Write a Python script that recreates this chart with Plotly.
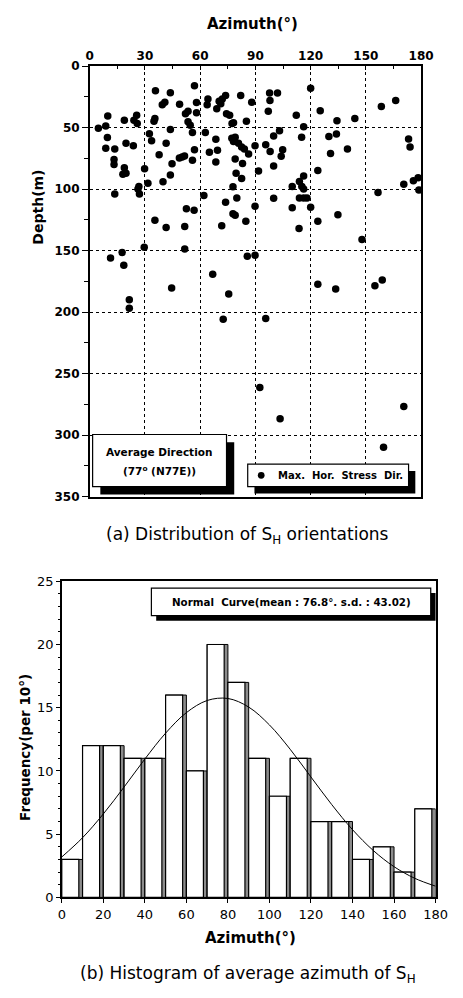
import plotly.graph_objects as go

# ---------------- data ----------------
azimuth = [35.7, 43.8, 56.9, 39.4, 40.8, 48.8, 58, 64.2, 63.8, 70.3, 72, 73.8, 71.2, 69, 82, 88, 97.7, 102, 97.9, 120,
           158.4, 166.2, 97, 125.2, 112.2, 134.3, 144, 9.8, 18.8, 25.5, 24, 25.8, 35.4, 34.9, 52, 53.4, 58, 53.4, 54.6,
           74.3, 76, 77.3, 78.1, 85.1, 116.2, 4.7, 8.7, 43.8, 32.4, 55.8, 62.8, 9.6, 33.6, 41.5, 19.7, 23.7, 68.5, 77.2,
           79, 78.1, 80.8, 82.5, 89.8, 99.9, 103.1, 95.6, 115.1, 129.9, 134, 173.2, 174, 8.7, 13.6, 56.9, 37.7, 65, 69.4,
           84, 86.3, 98, 104.8, 104, 99.9, 13.2, 13.2, 48.7, 50.2, 51.5, 55.8, 44.7, 68.5, 79, 83, 130.8, 140, 18.8, 18,
           19.7, 29.8, 43.8, 39.8, 31.6, 26.7, 26.2, 79.5, 82.5, 91.7, 77.8, 110, 113.9, 116.2, 115.2, 116.2, 123.9,
           156.6, 170.6, 175.8, 178.4, 178.8, 27, 13.6, 62, 73.8, 79.9, 89.8, 99.9, 113.9, 116.2, 118, 110, 120, 52.5,
           56.7, 77.8, 79, 84.8, 71.7, 35.4, 41.5, 51.6, 123.9, 134.8, 113.7, 147.9, 11.3, 17.6, 18.5, 21.5, 21.5, 29.6,
           44.5, 51.6, 66.8, 72.5, 75.5, 85.6, 89.8, 95.6, 123.9, 133.6, 154.9, 158.9, 92.4, 103.4, 170.6, 159.6]
depth = [20, 21.6, 16, 31.4, 29.3, 31, 29.6, 26.7, 31.4, 28.5, 26.7, 24, 30.7, 34.7, 24, 29.3, 21.9, 21.9, 28, 18,
         32.8, 28, 36.8, 36.3, 40, 44.5, 42.7, 40.5, 44, 40, 44, 46.7, 42.7, 44.8, 38.7, 36.8, 38, 45.3, 48,
         38.7, 40, 46.7, 46, 44.8, 49.3, 50.5, 48.8, 51.5, 55, 54, 54, 58, 60.8, 62.7, 62.7, 64.8, 59.5, 58.7,
         57.9, 61.3, 62.7, 65.8, 64.8, 56.8, 52.5, 64, 57.9, 57.3, 55.2, 59.2, 65.8, 66.7, 67.5, 68, 72, 70, 68.5,
         67.5, 71.5, 69.5, 68, 73.3, 81.3, 76, 80, 74.7, 73.9, 73, 76.5, 79.5, 78, 75.5, 79.2, 71, 67.5, 82.7, 88,
         87.2, 83.5, 88.5, 94, 95.2, 98, 100, 87.2, 91.4, 85.3, 98.1, 97.9, 93.9, 89.3, 97.9, 100, 84.8,
         102.7, 96, 93.3, 90.7, 100.8, 104, 104, 105.3, 110.7, 107.2, 113.9, 107.5, 107.2, 107.2, 107.2, 115.2, 114.7, 116,
         117.3, 120, 121.3, 126.1, 129.9, 125.3, 131.2, 130.5, 126.1, 120.8, 132, 141, 156, 151.5, 162, 190, 196.8, 147.2,
         180.5, 148.8, 169.3, 205.9, 185.3, 154.7, 153.9, 205.3, 177.3, 181.3, 178.7, 173.9, 261.3, 286.7, 276.8, 310]

bin_left = [0, 10, 20, 30, 40, 50, 60, 70, 80, 90, 100, 110, 120, 130, 140, 150, 160, 170]
counts = [3, 12, 12, 11, 11, 16, 10, 20, 17, 11, 8, 11, 6, 6, 3, 4, 2, 7]

curve_x = [0, 10, 20, 30, 40, 50, 60, 70, 80, 90, 100, 110, 120, 130, 140, 150, 160, 170, 180]
curve_y = [3.2, 4.72, 6.6, 8.73, 10.94, 12.99, 14.61, 15.57, 15.73, 15.05, 13.64, 11.71, 9.52, 7.34, 5.36, 3.71,
           2.43, 1.51, 0.89]

top_xticks = [0, 30, 60, 90, 120, 150, 180]
top_yticks = [0, 50, 100, 150, 200, 250, 300, 350]
bot_xticks = [0, 20, 40, 60, 80, 100, 120, 140, 160, 180]
bot_yticks = [0, 5, 10, 15, 20, 25]

# ---------------- layout helpers ----------------
W, H = 463, 998


def px(x):
    return x / W


def py(y):
    return 1 - y / H


BOLD = dict(family="DejaVu Sans", color="black", weight="bold")
REG = dict(family="DejaVu Sans", color="black")

fig = go.Figure()

# top scatter
fig.add_trace(go.Scatter(x=azimuth, y=depth, mode="markers", xaxis="x", yaxis="y",
                         marker=dict(color="black", size=7.5, line=dict(width=0)), showlegend=False))

# histogram (3D-look bars)
fig.add_trace(go.Bar(x=bin_left, y=counts, width=10, offset=0, xaxis="x2", yaxis="y2",
                     marker=dict(color="#8c8c8c", line=dict(color="black", width=1)), showlegend=False))
fig.add_trace(go.Bar(x=bin_left, y=counts, width=8.2, offset=0, xaxis="x2", yaxis="y2",
                     marker=dict(color="white", line=dict(color="black", width=1.2)), showlegend=False))
fig.add_trace(go.Scatter(x=curve_x, y=curve_y, mode="lines", xaxis="x2", yaxis="y2",
                         line=dict(color="black", width=1, shape="spline"), showlegend=False))

axis_common = dict(showline=True, linecolor="black", linewidth=1.5, mirror=True, zeroline=False)

fig.update_layout(
    width=W, height=H, margin=dict(l=0, r=0, t=0, b=0),
    paper_bgcolor="white", plot_bgcolor="white", barmode="overlay",
    xaxis=dict(domain=[px(89), px(433)], range=[0, 180], side="top", anchor="y",
               tickvals=top_xticks, ticks="inside", ticklen=4, tickcolor="black",
               minor=dict(dtick=15, tick0=0, ticks="inside", ticklen=3, tickcolor="black"),
               showgrid=True, griddash="dot", gridcolor="black", gridwidth=1,
               tickfont=dict(size=12, **BOLD), **axis_common),
    yaxis=dict(domain=[py(497), py(60)], range=[350, 0], anchor="x",
               tickvals=top_yticks, ticks="outside", ticklen=6, tickcolor="black",
               minor=dict(dtick=25, tick0=0, ticks="outside", ticklen=4, tickcolor="black"),
               showgrid=True, griddash="dot", gridcolor="black", gridwidth=1,
               tickfont=dict(size=12, **BOLD), **axis_common),
    xaxis2=dict(domain=[px(60), px(448)], range=[0, 180], anchor="y2",
                tickvals=bot_xticks, ticks="outside", ticklen=4, tickcolor="black",
                showgrid=False, tickfont=dict(size=13, **REG), **axis_common),
    yaxis2=dict(domain=[py(904), py(583)], range=[0, 25], anchor="x2",
                tickvals=bot_yticks, ticks="outside", ticklen=4, tickcolor="black",
                minor=dict(dtick=1, tick0=0, ticks="outside", ticklen=2, tickcolor="black"),
                showgrid=False, tickfont=dict(size=13, **REG), **axis_common),
)

shapes = []
annotations = []


def box(x0, y0, x1, y1, sh):
    shapes.append(dict(type="rect", xref="paper", yref="paper", x0=px(x0 + sh), x1=px(x1 + sh),
                       y0=py(y1 + sh), y1=py(y0 + sh), fillcolor="black", line=dict(width=0)))
    shapes.append(dict(type="rect", xref="paper", yref="paper", x0=px(x0), x1=px(x1),
                       y0=py(y1), y1=py(y0), fillcolor="white", line=dict(color="black", width=1.2)))


def text(x, y, s, size, font, angle=0, xanchor="center"):
    annotations.append(dict(x=px(x), y=py(y), xref="paper", yref="paper", text=s, showarrow=False,
                            xanchor=xanchor, yanchor="middle", textangle=angle,
                            font=dict(size=size, **font)))


# top chart legend boxes
box(92, 434, 231, 487, 8)
text(161, 452, "Average Direction", 10.5, BOLD)
text(161, 471, "(77<sup>o</sup> (N77E))", 10.5, BOLD)
box(253, 464, 420, 487, 7)
shapes.append(dict(type="circle", xref="paper", yref="paper", x0=px(263.5), x1=px(270.5),
                   y0=py(479), y1=py(472), fillcolor="black", line=dict(width=0)))
text(282, 475.5, "Max.  Hor.  Stress  Dir.", 10, BOLD, xanchor="left")

# bottom chart legend box
box(153, 590, 443, 618, 5)
text(298, 604, "Normal  Curve(mean : 76.8°. s.d. : 43.02)", 10.3, BOLD)

# axis titles
text(258, 17, "Azimuth(°)", 15, BOLD)
text(35, 203, "Depth(m)", 14, BOLD, angle=-90)
text(22, 752, "Frequency(per 10°)", 13.5, BOLD, angle=-90)
text(256, 945, "Azimuth(°)", 15, BOLD)

# captions
text(253, 537, "(a) Distribution of S<sub>H</sub> orientations", 17, REG)
text(253, 982, "(b) Histogram of average azimuth of S<sub>H</sub>", 17, REG)

fig.update_layout(shapes=shapes, annotations=annotations)

fig.write_html("out.html")
